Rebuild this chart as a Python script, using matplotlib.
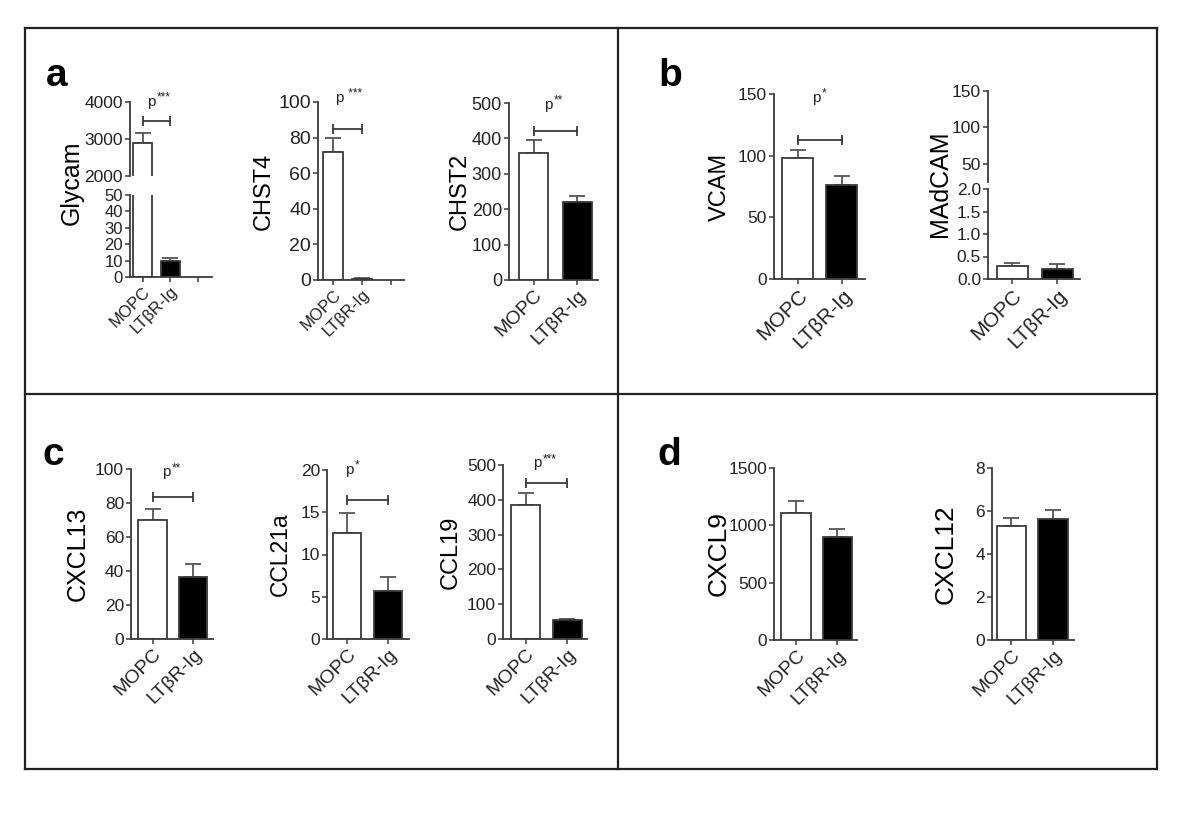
import matplotlib
matplotlib.use("Agg")
import matplotlib.pyplot as plt
import numpy as np
from matplotlib.lines import Line2D

plt.rcParams["font.family"] = ["Liberation Sans", "DejaVu Sans"]

# --- data ---
groups = ["MOPC", "LTβR-Ig"]
genes = ["Glycam", "CHST4", "CHST2", "VCAM", "MAdCAM",
         "CXCL13", "CCL21a", "CCL19", "CXCL9", "CXCL12"]
mopc = [2900, 72, 360, 98, 0.28, 70, 12.5, 385, 1107, 5.3]
mopc_err = [250, 7.5, 35, 7, 0.07, 6.5, 2.4, 35, 105, 0.37]
ltbr = [10, 0.8, 220, 76, 0.23, 36.5, 5.7, 55, 898, 5.63]
ltbr_err = [1.5, 0.3, 17, 7.5, 0.1, 7.5, 1.6, 3, 70, 0.42]
stars = ["***", " ***", "**", "*", None, "**", "*", "***", None, None]
bracket_y = [3500, 85, 420, 113, None, 83.5, 16.4, 448, None, None]

W, H = 1200, 814
EDGE = "#3a3a3a"


def box(l, t, r, b):
    return [l / W, 1 - b / H, (r - l) / W, (b - t) / H]


fig = plt.figure(figsize=(W / 100, H / 100), dpi=100)


def style(ax, fs=12):
    for s in ["top", "right"]:
        ax.spines[s].set_visible(False)
    for s in ["left", "bottom"]:
        ax.spines[s].set_linewidth(1.3)
        ax.spines[s].set_color(EDGE)
    ax.tick_params(axis="both", direction="out", length=3.5, width=1.1,
                   color=EDGE, labelsize=fs, labelcolor="#222", pad=1.5)
    ax.patch.set_alpha(0)


def bars(ax, i, ncat=2, width=0.7):
    x = np.arange(ncat)
    vals = [mopc[i], ltbr[i]]
    errs = [mopc_err[i], ltbr_err[i]]
    ax.bar(x[:2], vals, width=width, color=["white", "black"],
           edgecolor=EDGE, linewidth=1.3, zorder=2)
    ax.errorbar(x[:2], vals, yerr=[[0, 0], errs], fmt="none", ecolor="#555",
                elinewidth=1.3, capsize=6, capthick=1.3, zorder=1)
    ax.set_xticks(x)


def xlabels(ax, fs=14, ncat=2):
    labels = groups + [""] * (ncat - 2)
    ax.set_xticklabels(labels, rotation=45, ha="right",
                       rotation_mode="anchor", fontsize=fs)


def sig(ax, i, px, ty):
    if stars[i] is None:
        return
    ax.plot([0, 1], [bracket_y[i]] * 2, color=EDGE, lw=1.3, clip_on=False)
    ax.plot([0, 1], [bracket_y[i]] * 2, ls="none", marker="|", ms=7,
            mew=1.3, color=EDGE, clip_on=False)
    tr = ax.get_xaxis_transform()
    ax.text(px, ty, "p", transform=tr, ha="left", va="center",
            fontsize=11, color="#222")
    ax.annotate(stars[i], xy=(px, ty), xycoords=tr, xytext=(7, 3),
                textcoords="offset points", ha="left", va="center",
                fontsize=8.5, color="#222")


# ---------- panel a ----------
# Glycam: broken axis
g_up = fig.add_axes(box(130, 102, 212, 176))
g_lo = fig.add_axes(box(130, 195, 212, 277))
for ax in (g_up, g_lo):
    style(ax, fs=12.5)
    bars(ax, 0, ncat=3)
    ax.set_xlim(-0.45, 2.5)
g_up.set_ylim(2000, 4000)
g_up.set_yticks([2000, 3000, 4000])
g_up.spines["bottom"].set_visible(False)
g_up.tick_params(axis="x", bottom=False, labelbottom=False)
g_lo.set_ylim(0, 50)
g_lo.set_yticks(np.arange(0, 51, 10))
g_lo.tick_params(axis="y", labelsize=12)
xlabels(g_lo, fs=12, ncat=3)
sig(g_up, 0, 0.18, 1.0)
fig.text(72 / W, 1 - 183 / H, genes[0], rotation=90, ha="center",
         va="center", fontsize=18)

ax = fig.add_axes(box(318, 102, 404, 280))
style(ax, fs=14)
bars(ax, 1, ncat=3)
ax.set_xlim(-0.52, 2.45)
ax.set_ylim(0, 100)
ax.set_yticks(np.arange(0, 101, 20))
xlabels(ax, fs=12, ncat=3)
ax.set_ylabel(genes[1], fontsize=17, labelpad=3)
sig(ax, 1, 0.07, 1.02)

ax = fig.add_axes(box(509, 103, 598, 280))
style(ax, fs=13)
bars(ax, 2, width=0.66)
ax.set_xlim(-0.56, 1.47)
ax.set_ylim(0, 500)
ax.set_yticks(np.arange(0, 501, 100))
xlabels(ax, fs=14)
ax.set_ylabel(genes[2], fontsize=17, labelpad=1)
sig(ax, 2, 0.24, 0.99)

# ---------- panel b ----------
ax = fig.add_axes(box(774, 94, 865, 279))
style(ax, fs=12.5)
bars(ax, 3)
ax.set_xlim(-0.53, 1.52)
ax.set_ylim(0, 150)
ax.set_yticks([0, 50, 100, 150])
xlabels(ax, fs=15)
ax.set_ylabel(genes[3], fontsize=17, labelpad=5)
sig(ax, 3, 0.33, 0.98)

m_up = fig.add_axes(box(988, 91, 1080, 182))
m_lo = fig.add_axes(box(988, 189, 1080, 279))
for ax in (m_up, m_lo):
    style(ax, fs=12.5)
    bars(ax, 4)
    ax.set_xlim(-0.54, 1.5)
m_up.set_ylim(25, 150)
m_up.set_yticks([50, 100, 150])
m_up.spines["bottom"].set_visible(False)
m_up.tick_params(axis="x", bottom=False, labelbottom=False)
m_lo.set_ylim(0, 2)
m_lo.set_yticks([0, 0.5, 1.0, 1.5, 2.0])
m_lo.set_yticklabels(["0.0", "0.5", "1.0", "1.5", "2.0"])
xlabels(m_lo, fs=15)
fig.text(940 / W, 1 - 184 / H, genes[4], rotation=90, ha="center",
         va="center", fontsize=18)

# ---------- panel c ----------
specs_c = [
    (5, (131, 469, 213, 639), (-0.53, 1.49), (0, 100), np.arange(0, 101, 20), 0.23, 0.98, 18, 4),
    (6, (327, 470, 409, 639), (-0.49, 1.51), (0, 20), np.arange(0, 21, 5), -0.05, 1.0, 16.5, 6),
    (7, (503, 465, 587, 639), (-0.55, 1.47), (0, 500), np.arange(0, 501, 100), 0.17, 1.01, 17, 4),
]
for i, b, xl, yl, yt, px, ty, lfs, lpad in specs_c:
    ax = fig.add_axes(box(*b))
    style(ax, fs=12.5)
    bars(ax, i)
    ax.set_xlim(*xl)
    ax.set_ylim(*yl)
    ax.set_yticks(yt)
    xlabels(ax, fs=14)
    ax.set_ylabel(genes[i], fontsize=lfs, labelpad=lpad)
    sig(ax, i, px, ty)

# ---------- panel d ----------
specs_d = [
    (8, (774, 468, 857, 640), (-0.53, 1.47), (0, 1500), [0, 500, 1000, 1500], -2),
    (9, (992, 468, 1074, 640), (-0.46, 1.5), (0, 8), [0, 2, 4, 6, 8], 13),
]
for i, b, xl, yl, yt, lpad in specs_d:
    ax = fig.add_axes(box(*b))
    style(ax, fs=12.5)
    bars(ax, i)
    ax.set_xlim(*xl)
    ax.set_ylim(*yl)
    ax.set_yticks(yt)
    xlabels(ax, fs=14)
    ax.set_ylabel(genes[i], fontsize=19, labelpad=lpad)

# ---------- panel frame and letters ----------
L, T, R, B = 25, 28, 1157, 769
MX, MY = 618, 394
frame = [((L, R), (T, T)), ((L, R), (B, B)), ((L, L), (T, B)), ((R, R), (T, B)),
         ((MX, MX), (T, B)), ((L, R), (MY, MY))]
for xs, ys in frame:
    fig.add_artist(Line2D([x / W for x in xs], [1 - y / H for y in ys],
                          color="#222", lw=1.6))

for letter, lx, ly in [("a", 46, 86), ("b", 658, 86), ("c", 43, 465), ("d", 657, 465)]:
    fig.text(lx / W, 1 - ly / H, letter, fontsize=28, fontweight="bold",
             ha="left", va="baseline")

fig.savefig("out.png", dpi=100, facecolor="white")
